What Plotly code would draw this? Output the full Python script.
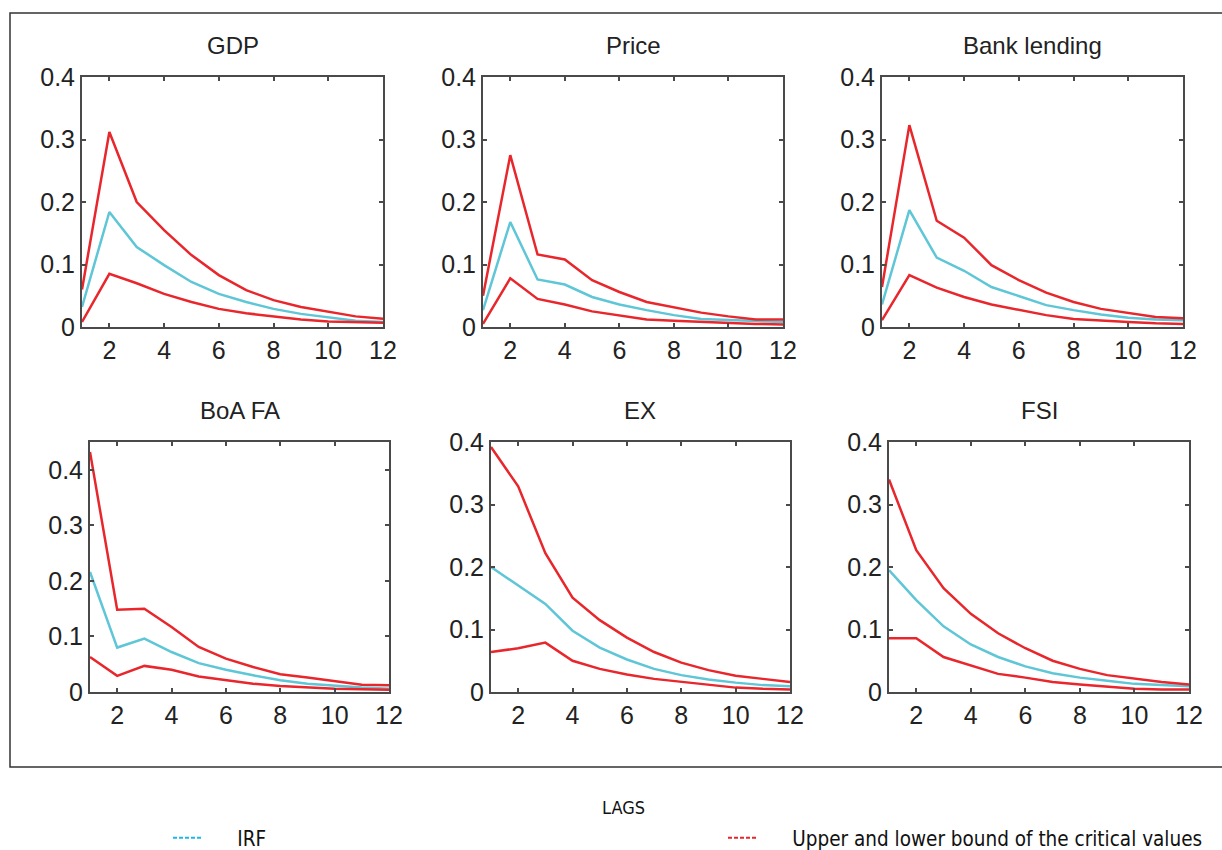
import plotly.graph_objects as go

W, H = 1222, 850

lags = list(range(1, 13))
titles = ["GDP", "Price", "Bank lending", "BoA FA", "EX", "FSI"]

gdp_upper = [0.060, 0.312, 0.200, 0.155, 0.115, 0.083, 0.059, 0.043, 0.032, 0.024, 0.017, 0.013]
gdp_irf   = [0.032, 0.184, 0.128, 0.099, 0.072, 0.053, 0.040, 0.029, 0.021, 0.015, 0.010, 0.008]
gdp_lower = [0.008, 0.085, 0.070, 0.053, 0.040, 0.029, 0.022, 0.017, 0.012, 0.009, 0.008, 0.007]

price_upper = [0.050, 0.275, 0.116, 0.108, 0.075, 0.056, 0.040, 0.032, 0.023, 0.017, 0.012, 0.012]
price_irf   = [0.027, 0.168, 0.076, 0.068, 0.048, 0.036, 0.027, 0.019, 0.013, 0.011, 0.009, 0.008]
price_lower = [0.005, 0.078, 0.045, 0.036, 0.025, 0.019, 0.012, 0.010, 0.008, 0.007, 0.005, 0.004]

bank_upper = [0.064, 0.323, 0.170, 0.143, 0.099, 0.075, 0.055, 0.040, 0.029, 0.023, 0.016, 0.014]
bank_irf   = [0.036, 0.187, 0.111, 0.090, 0.064, 0.050, 0.035, 0.027, 0.020, 0.015, 0.012, 0.011]
bank_lower = [0.011, 0.083, 0.063, 0.048, 0.036, 0.028, 0.019, 0.013, 0.010, 0.008, 0.006, 0.005]

boa_upper = [0.432, 0.148, 0.150, 0.117, 0.081, 0.060, 0.045, 0.032, 0.026, 0.020, 0.013, 0.012]
boa_irf   = [0.216, 0.080, 0.096, 0.072, 0.052, 0.040, 0.030, 0.021, 0.015, 0.011, 0.008, 0.006]
boa_lower = [0.063, 0.029, 0.047, 0.040, 0.028, 0.022, 0.015, 0.011, 0.008, 0.006, 0.005, 0.004]

ex_upper = [0.392, 0.329, 0.222, 0.151, 0.115, 0.087, 0.064, 0.047, 0.035, 0.026, 0.021, 0.016]
ex_irf   = [0.200, 0.171, 0.141, 0.098, 0.071, 0.052, 0.037, 0.027, 0.020, 0.015, 0.011, 0.009]
ex_lower = [0.064, 0.070, 0.079, 0.050, 0.037, 0.028, 0.021, 0.016, 0.011, 0.007, 0.005, 0.004]

fsi_upper = [0.340, 0.227, 0.166, 0.125, 0.094, 0.070, 0.050, 0.037, 0.027, 0.021, 0.016, 0.012]
fsi_irf   = [0.195, 0.147, 0.105, 0.076, 0.056, 0.041, 0.030, 0.023, 0.018, 0.013, 0.011, 0.009]
fsi_lower = [0.086, 0.086, 0.056, 0.043, 0.029, 0.023, 0.016, 0.012, 0.008, 0.005, 0.004, 0.004]

uppers = [gdp_upper, price_upper, bank_upper, boa_upper, ex_upper, fsi_upper]
irfs = [gdp_irf, price_irf, bank_irf, boa_irf, ex_irf, fsi_irf]
lowers = [gdp_lower, price_lower, bank_lower, boa_lower, ex_lower, fsi_lower]
y_max = [0.4, 0.4, 0.4, 0.45, 0.4, 0.4]

x_ticks = [2, 4, 6, 8, 10, 12]
y_ticks = [0, 0.1, 0.2, 0.3, 0.4]
y_tick_text = ["0", "0.1", "0.2", "0.3", "0.4"]

# pixel boxes of each panel (left, right, top, bottom)
boxes = [
    (82, 383, 77, 327),
    (483, 783, 77, 327),
    (882, 1183, 77, 327),
    (90, 389, 442, 692),
    (491, 790, 442, 692),
    (889, 1189, 442, 692),
]

RED = "#e8262b"
CYAN = "#5ec6d6"
AX = "#4a4a4a"
TICKFONT = dict(family="Liberation Sans, Arial, sans-serif", size=25, color="#222222")

fig = go.Figure()
layout = dict(
    width=W, height=H,
    margin=dict(l=0, r=0, t=0, b=0, autoexpand=False),
    paper_bgcolor="white", plot_bgcolor="white",
    template="none",
    showlegend=True,
)
annotations = []

for i in range(6):
    n = i + 1
    xa = "x" if n == 1 else f"x{n}"
    ya = "y" if n == 1 else f"y{n}"
    l, r, t, b = boxes[i]
    layout["xaxis" if n == 1 else f"xaxis{n}"] = dict(
        domain=[l / W, r / W], range=[1, 12], anchor=ya,
        tickvals=x_ticks, ticks="inside", ticklen=4, tickwidth=1.5, tickcolor=AX,
        showline=True, linecolor=AX, linewidth=2, mirror="ticks",
        showgrid=False, zeroline=False, tickfont=TICKFONT, automargin=False,
    )
    layout["yaxis" if n == 1 else f"yaxis{n}"] = dict(
        domain=[1 - b / H, 1 - t / H], range=[0, y_max[i]], anchor=xa,
        tickvals=y_ticks, ticktext=y_tick_text, ticks="inside", ticklen=4, tickwidth=1.5,
        tickcolor=AX, showline=True, linecolor=AX, linewidth=2, mirror="ticks",
        showgrid=False, zeroline=False, tickfont=TICKFONT, automargin=False,
    )
    fig.add_trace(go.Scatter(x=lags, y=irfs[i], mode="lines", xaxis=xa, yaxis=ya,
                             line=dict(color=CYAN, width=2.5), showlegend=False))
    fig.add_trace(go.Scatter(x=lags, y=uppers[i], mode="lines", xaxis=xa, yaxis=ya,
                             line=dict(color=RED, width=2.5), showlegend=False))
    fig.add_trace(go.Scatter(x=lags, y=lowers[i], mode="lines", xaxis=xa, yaxis=ya,
                             line=dict(color=RED, width=2.5), showlegend=False))
    annotations.append(dict(
        text=titles[i], x=(l + r) / 2 / W, y=1 - (t - 32) / H, xref="paper", yref="paper",
        xanchor="center", yanchor="middle", showarrow=False,
        font=dict(family="Liberation Sans, Arial, sans-serif", size=24, color="#222222"),
    ))

# legend-only entries
fig.add_trace(go.Scatter(x=[None], y=[None], mode="lines", name="\u00a0\u00a0\u00a0\u00a0\u00a0IRF",
                         line=dict(color="#1fb6e8", width=2, dash="4px,2px"), legend="legend"))
fig.add_trace(go.Scatter(x=[None], y=[None], mode="lines",
                         name="\u00a0\u00a0\u00a0\u00a0\u00a0Upper and lower bound of the critical values",
                         line=dict(color="#e8262b", width=2, dash="4px,2px"), legend="legend2"))

FAM = "DejaVu Sans Condensed, Liberation Sans Narrow, DejaVu Sans, sans-serif"
LEGFONT = dict(family=FAM, size=20.5, color="#111111")
layout["legend"] = dict(x=168 / W, y=1 - 838 / H, xanchor="left", yanchor="middle",
                        bgcolor="rgba(0,0,0,0)", font=LEGFONT)
layout["legend2"] = dict(x=723 / W, y=1 - 838 / H, xanchor="left", yanchor="middle",
                         bgcolor="rgba(0,0,0,0)", font=LEGFONT)

annotations.append(dict(text="LAGS", x=623 / W, y=1 - 807 / H, xref="paper", yref="paper",
                        xanchor="center", yanchor="middle", showarrow=False,
                        font=dict(family=FAM, size=18, color="#111111")))

layout["annotations"] = annotations
layout["shapes"] = [dict(type="rect", xref="paper", yref="paper",
                         x0=10 / W, x1=1.01, y0=1 - 767 / H, y1=1 - 13 / H,
                         line=dict(color="#333333", width=1.5), fillcolor="rgba(0,0,0,0)")]

fig.update_layout(**layout)
fig.write_html("out.html")
